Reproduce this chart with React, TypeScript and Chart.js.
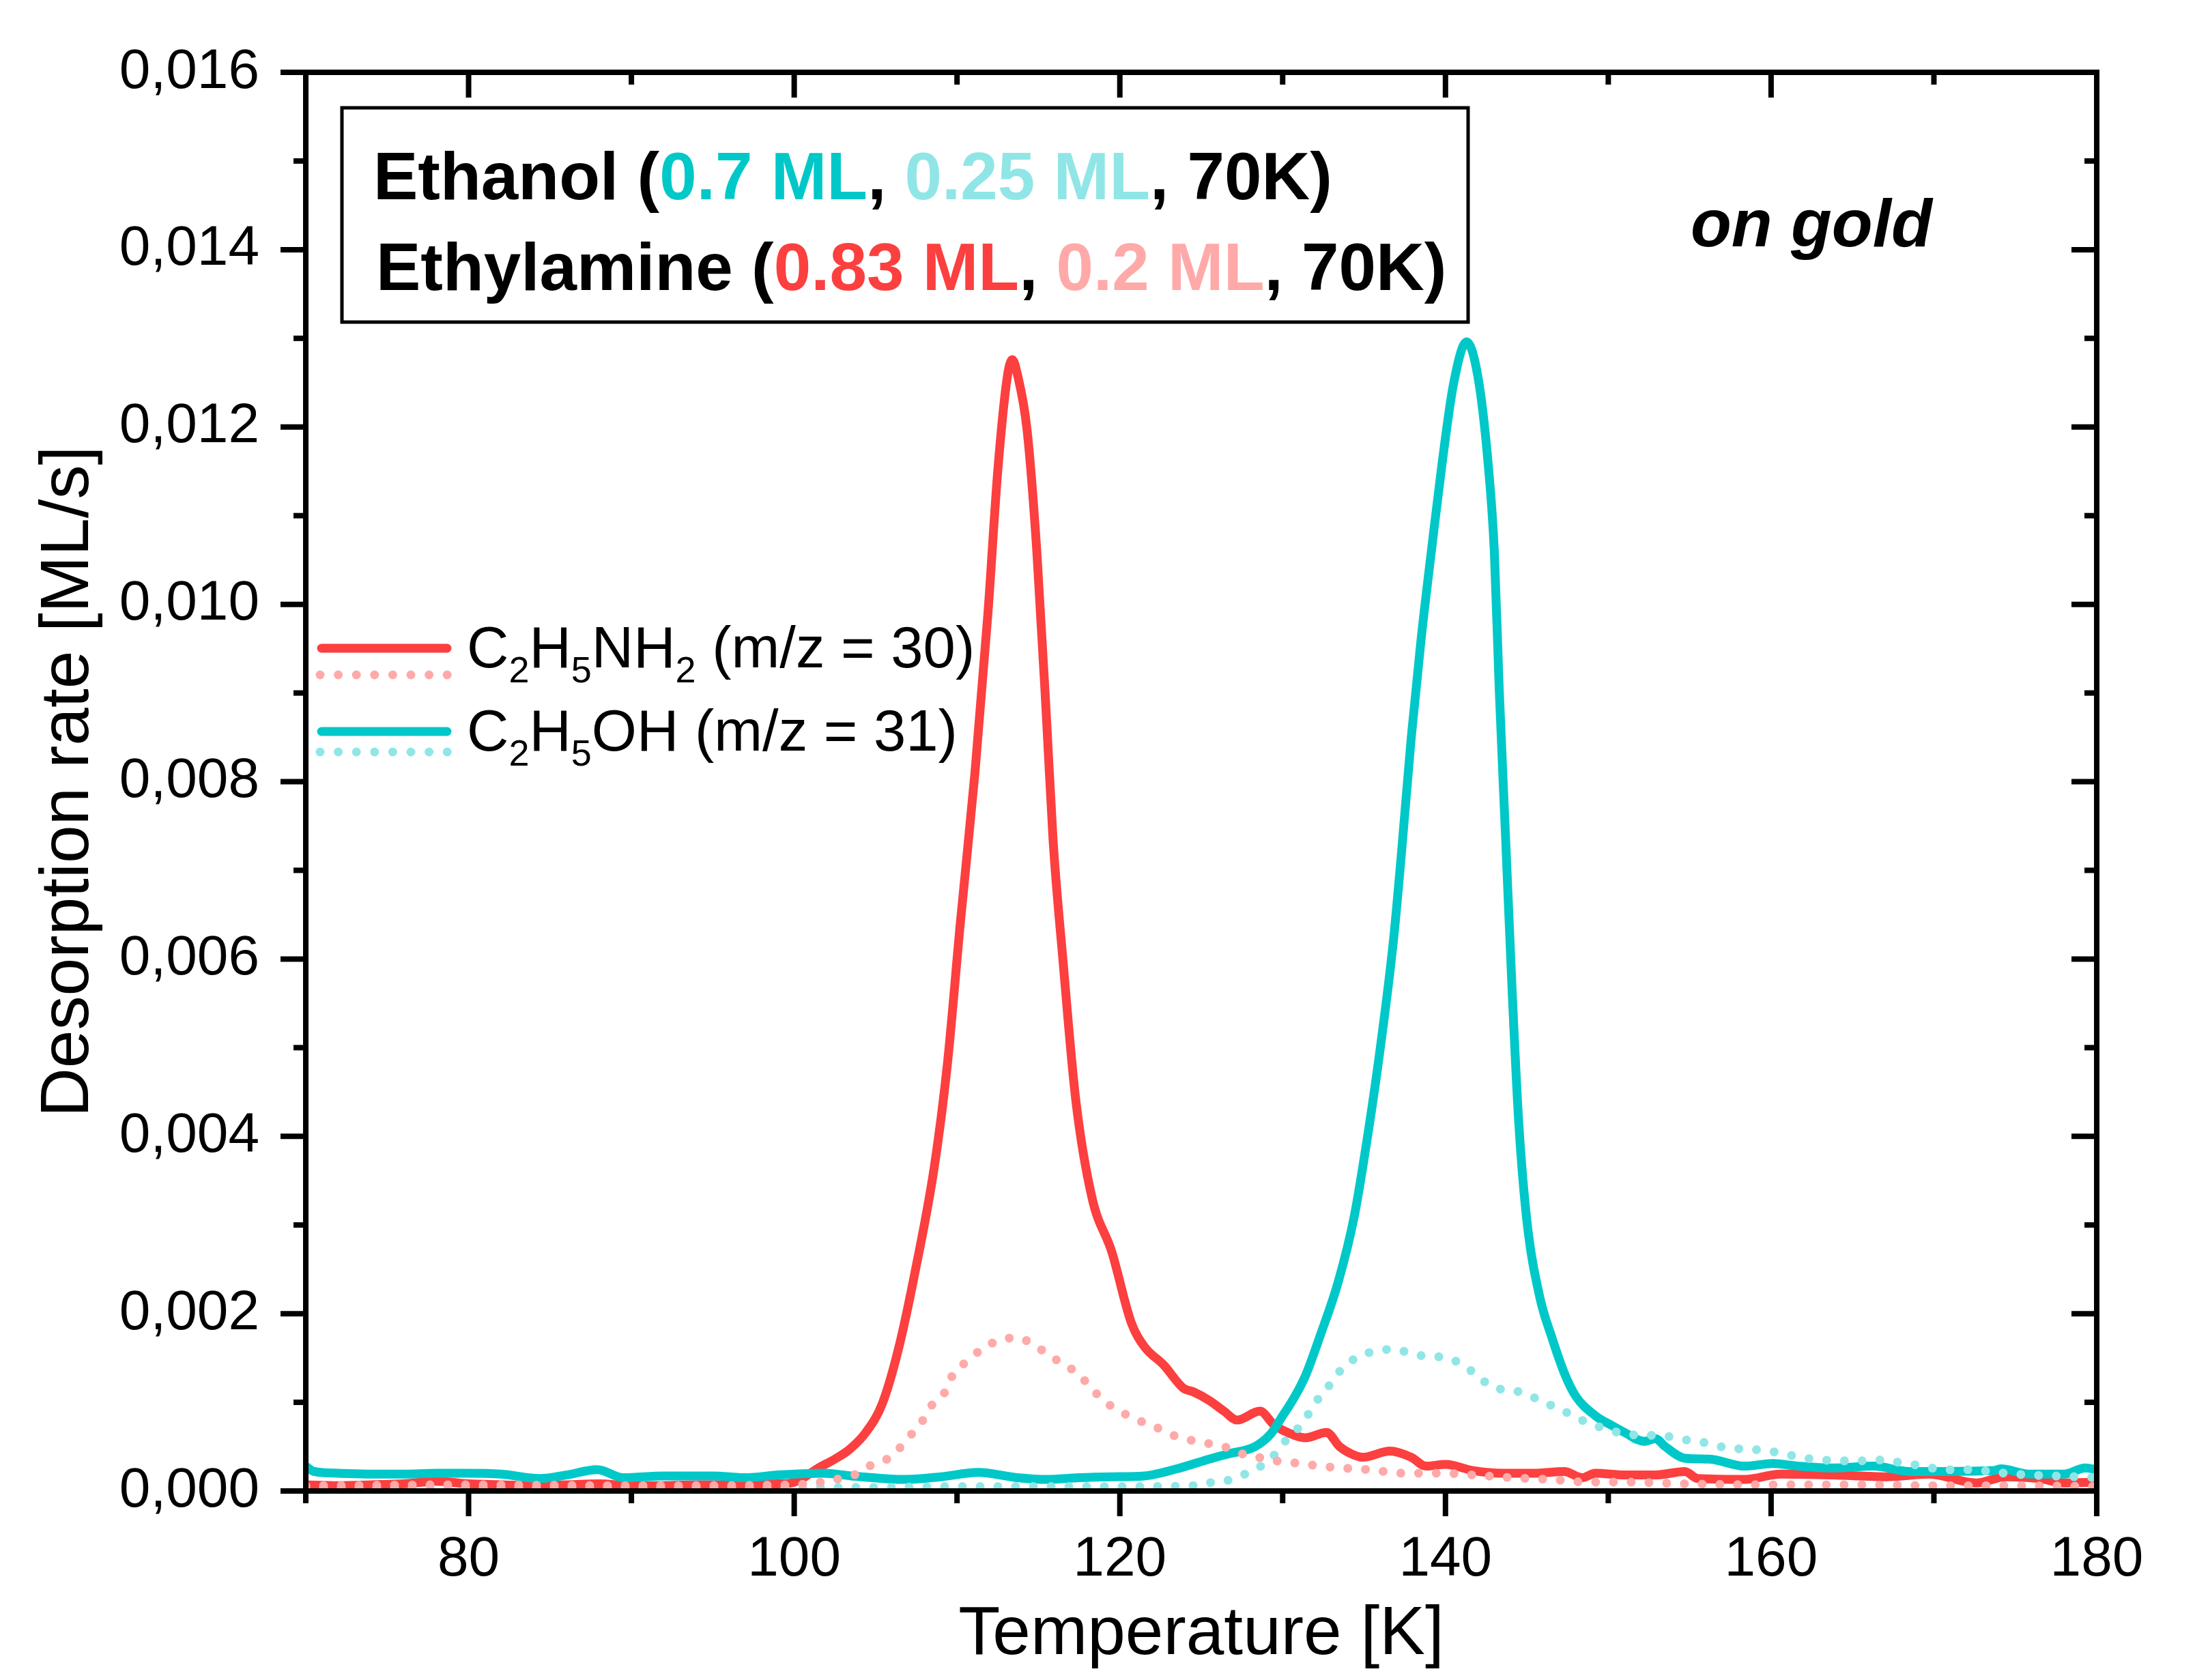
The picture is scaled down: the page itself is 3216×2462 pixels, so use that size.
import { useEffect, useRef } from "react";
import { Chart, registerables } from "chart.js";
Chart.register(...registerables);

const W = 3216;
const H = 2462;
const FONT = "'Liberation Sans', Arial, sans-serif";

const RED = "#FC3F3F";
const LIGHT_RED = "#FFA9A9";
const CYAN = "#00C8C8";
const LIGHT_CYAN = "#90E6E6";

// temperature [K] / desorption rate [ML/s]
const amine083T = [
  70, 72, 74, 76, 78, 80, 82, 84, 86, 88, 90, 92, 94, 96, 98, 99.4, 100.3, 101.4,
  102.5, 103.4, 104.4, 105.4, 106.4, 107.4, 108.6, 109.4, 110.2, 111.1, 111.9,
  112.5, 113.1, 113.4, 113.7, 114.3, 114.9, 115.5, 115.9, 116.5, 117.3, 118.3,
  119.5, 120.7, 121.5, 122.7, 123.9, 124.5, 125.5, 126.4, 127.2, 128.6, 129.5,
  130.7, 131.4, 132.7, 133.5, 134.2, 134.9, 136.6, 137.9, 138.8, 140, 141.7,
  143.5, 145.4, 147.3, 148.4, 149.2, 151, 152.9, 154.7, 155.5, 158.4, 160.6,
  163.8, 167.1, 169.7, 172.6, 174.4, 176.5, 178, 180,
];
const amine083 = [
  0.00007, 0.00006, 0.00007, 0.00008, 0.00011, 0.00008, 0.00007, 0.00006, 0.00007,
  0.00008, 0.00006, 0.00006, 0.00007, 0.00007, 0.00008, 0.00008, 0.00012, 0.00025,
  0.00036, 0.00047, 0.00066, 0.00098, 0.0016, 0.00245, 0.00365, 0.0048, 0.0064,
  0.0081, 0.0099, 0.0115, 0.01258, 0.01276, 0.0126, 0.01197, 0.0106, 0.0087,
  0.00734, 0.006, 0.0044, 0.0033, 0.0027, 0.0019, 0.00163, 0.00142, 0.00116,
  0.00112, 0.00102, 0.0009, 0.0008, 0.0009, 0.00074, 0.00063, 0.0006, 0.00066,
  0.0005, 0.00042, 0.00038, 0.00045, 0.00038, 0.00028, 0.0003, 0.00023, 0.0002,
  0.0002, 0.00022, 0.00015, 0.0002, 0.00018, 0.00018, 0.00022, 0.00014, 0.00013,
  0.00019, 0.00018, 0.00016, 0.00019, 0.00009, 0.00016, 0.00014, 0.00009, 0.0001,
];

const amine02T = [
  70, 80, 90, 100, 100.8, 101.7, 102.8, 103.8, 104.6, 105.7, 106.4, 107.2, 107.8,
  108.5, 109.2, 109.8, 110.6, 111.6, 112.6, 113.7, 114.7, 115.6, 116.6, 117.4,
  118.2, 119, 120, 121.1, 122.1, 123.1, 124.2, 125.3, 126.4, 127.5, 128.5, 129.6,
  130.6, 132.9, 135.3, 137.6, 139.9, 141.7, 144.1, 146.5, 148.7, 151, 155, 160,
  165, 170, 175, 180,
];
const amine02 = [
  0.00006, 0.00007, 0.00006, 0.00007, 0.00008, 0.0001, 0.00014, 0.00019, 0.00028,
  0.00036, 0.00047, 0.00064, 0.00077, 0.00098, 0.0011, 0.00133, 0.00146, 0.00161,
  0.0017, 0.00173, 0.00165, 0.00154, 0.00142, 0.00133, 0.00117, 0.00102, 0.0009,
  0.0008, 0.00073, 0.00064, 0.00058, 0.00054, 0.0005, 0.00042, 0.00038, 0.00034,
  0.00032, 0.00027, 0.00024, 0.0002, 0.0002, 0.00018, 0.00015, 0.00013, 0.0001,
  0.0001, 0.00008, 0.00007, 0.00007, 0.00006, 0.00006, 0.00005,
];

const ethanol07T = [
  70, 70.5, 72, 74, 76, 78, 80, 82, 84.4, 86, 87.9, 89.5, 92, 95, 97, 99, 101.8,
  103.5, 106.9, 109, 111.3, 113.7, 115.5, 117.5, 119.5, 121.5, 123.5, 125.5,
  126.7, 128.3, 129.3, 129.9, 130.7, 131.4, 132.3, 133.4, 134.4, 135.3, 136,
  136.8, 137.3, 137.9, 138.5, 139.2, 139.8, 140.5, 141.3, 142, 142.6, 143, 143.3,
  143.7, 144.1, 144.5, 145, 145.8, 146.5, 147.3, 148, 149.2, 150.3, 151, 152.2,
  152.9, 153.5, 154.7, 156.2, 158.4, 160.1, 161.7, 163.8, 166.3, 168.5, 170.5,
  173.7, 174.1, 175.9, 178, 179.3, 180,
];
const ethanol07 = [
  0.00028, 0.00022, 0.0002, 0.00019, 0.00019, 0.0002, 0.0002, 0.00019, 0.00014,
  0.00018, 0.00024, 0.00015, 0.00017, 0.00017, 0.00015, 0.00018, 0.0002, 0.00017,
  0.00013, 0.00016, 0.00021, 0.00015, 0.00013, 0.00015, 0.00016, 0.00017, 0.00025,
  0.00036, 0.00042, 0.0005, 0.00065, 0.00082, 0.00105, 0.0013, 0.00175, 0.00235,
  0.0031, 0.0041, 0.005, 0.0062, 0.0072, 0.0085, 0.0096, 0.0107, 0.0116,
  0.01249, 0.01296, 0.01256, 0.01163, 0.0106, 0.00905, 0.00734, 0.00562, 0.00416,
  0.00305, 0.00218, 0.00175, 0.00133, 0.00107, 0.00085, 0.00073, 0.00066, 0.00056,
  0.00059, 0.0005, 0.00037, 0.00036, 0.00028, 0.00031, 0.00028, 0.00026, 0.00028,
  0.00022, 0.00022, 0.00023, 0.00025, 0.00019, 0.00019, 0.00026, 0.00024,
];

const ethanol025T = [
  70, 80, 90, 100, 105, 110, 115, 120, 124.5, 126, 126.9, 128, 129, 129.6, 130.2,
  131.1, 131.7, 132.3, 133, 133.6, 134.7, 135.8, 136.9, 138, 139, 140.1, 141,
  141.9, 142.9, 143.9, 144.9, 146, 147, 148, 149.5, 151.2, 152.3, 153.5, 154.6,
  155.6, 156.6, 157.7, 158.8, 159.9, 161, 162.1, 163.2, 164.3, 165.4, 166.6,
  167.6, 168.7, 169.8, 170.8, 172, 175, 178.7, 180,
];
const ethanol025 = [
  0.00004, 0.00004, 0.00004, 0.00004, 0.00004, 0.00005, 0.00005, 0.00005, 0.00006,
  0.00011, 0.00013, 0.00022, 0.00032, 0.00043, 0.00057, 0.00074, 0.0009, 0.00107,
  0.00122, 0.00137, 0.00152, 0.00158, 0.0016, 0.00154, 0.00152, 0.0015, 0.00143,
  0.00131, 0.00117, 0.00114, 0.0011, 0.001, 0.00093, 0.00083, 0.00072, 0.00064,
  0.00063, 0.00062, 0.00058, 0.00056, 0.00051, 0.00048, 0.00047, 0.00045, 0.00041,
  0.00037, 0.00035, 0.00034, 0.00034, 0.00035, 0.00033, 0.0003, 0.00026, 0.00024,
  0.00024, 0.00019, 0.00016, 0.00015,
];

const xMajorTicks = [80, 100, 120, 140, 160, 180];
const xMinorTicks = [70, 90, 110, 130, 150, 170];
const yMajorTicks = [0, 0.002, 0.004, 0.006, 0.008, 0.01, 0.012, 0.014, 0.016];
const yMinorTicks = [0.001, 0.003, 0.005, 0.007, 0.009, 0.011, 0.013, 0.015];

const boxRows: [string, string][][] = [
  [["Ethanol (", "#000"], ["0.7 ML", CYAN], [", ", "#000"], ["0.25 ML", LIGHT_CYAN], [", 70K)", "#000"]],
  [["Ethylamine (", "#000"], ["0.83 ML", RED], [", ", "#000"], ["0.2 ML", LIGHT_RED], [", 70K)", "#000"]],
];

// [text, subscript?]
const amineLabel: [string, boolean][] = [
  ["C", false], ["2", true], ["H", false], ["5", true], ["NH", false], ["2", true], [" (m/z = 30)", false],
];
const ethanolLabel: [string, boolean][] = [
  ["C", false], ["2", true], ["H", false], ["5", true], ["OH (m/z = 31)", false],
];

const LINE_W = 13;

const pts = (t: number[], v: number[]) => t.map((x, i) => ({ x, y: v[i] }));

const drawFormula = (ctx: CanvasRenderingContext2D, parts: [string, boolean][], x: number, y: number) => {
  let cx = x;
  for (const [t, sub] of parts) {
    ctx.font = sub ? `54px ${FONT}` : `85px ${FONT}`;
    ctx.fillText(t, cx, sub ? y + 22 : y);
    cx += ctx.measureText(t).width;
  }
};

const framePlugin = {
  id: "frame",
  afterDraw(chart: any) {
    const { ctx, chartArea: a, scales } = chart;
    const sx = scales.x;
    const sy = scales.y;
    ctx.save();
    ctx.strokeStyle = "#000";
    ctx.fillStyle = "#000";
    ctx.lineWidth = 8;
    ctx.lineCap = "butt";
    ctx.setLineDash([]);
    const seg = (x1: number, y1: number, x2: number, y2: number) => {
      ctx.beginPath();
      ctx.moveTo(x1, y1);
      ctx.lineTo(x2, y2);
      ctx.stroke();
    };
    // ticks: outward on left/bottom, inward on top/right
    const xt: [number[], number][] = [[xMajorTicks, 37], [xMinorTicks, 18]];
    for (const [vals, len] of xt) {
      for (const v of vals) {
        const px = sx.getPixelForValue(v);
        seg(px, a.bottom, px, a.bottom + len);
        seg(px, a.top, px, a.top + len);
      }
    }
    const yt: [number[], number][] = [[yMajorTicks, 37], [yMinorTicks, 18]];
    for (const [vals, len] of yt) {
      for (const v of vals) {
        const py = sy.getPixelForValue(v);
        seg(a.left - len, py, a.left, py);
        seg(a.right - len, py, a.right, py);
      }
    }
    ctx.strokeRect(a.left, a.top, a.right - a.left, a.bottom - a.top);

    // composition box
    ctx.lineWidth = 5;
    ctx.strokeRect(501, 158, 1650, 314);
    ctx.textAlign = "left";
    ctx.textBaseline = "alphabetic";
    ctx.font = `bold 98px ${FONT}`;
    const rowPos = [[547, 292], [551, 425]];
    boxRows.forEach((row, i) => {
      let x = rowPos[i][0];
      for (const [t, c] of row) {
        ctx.fillStyle = c;
        ctx.fillText(t, x, rowPos[i][1]);
        x += ctx.measureText(t).width;
      }
    });

    ctx.fillStyle = "#000";
    ctx.font = `italic bold 98px ${FONT}`;
    ctx.fillText("on gold", 2477, 361);

    // series legend
    ctx.lineWidth = LINE_W;
    ctx.lineCap = "round";
    const sample = (color: string, y: number, dotted: boolean) => {
      ctx.strokeStyle = color;
      ctx.setLineDash(dotted ? [0, 26.6] : []);
      seg(dotted ? 469 : 471, y, dotted ? 657 : 655, y);
    };
    sample(RED, 950, false);
    sample(LIGHT_RED, 989, true);
    sample(CYAN, 1072, false);
    sample(LIGHT_CYAN, 1102, true);
    ctx.setLineDash([]);
    ctx.fillStyle = "#000";
    drawFormula(ctx, amineLabel, 684, 978);
    drawFormula(ctx, ethanolLabel, 684, 1100);

    // axis titles
    ctx.font = `100px ${FONT}`;
    ctx.textAlign = "center";
    ctx.fillText("Temperature [K]", (a.left + a.right) / 2, 2424);
    ctx.translate(129, (a.top + a.bottom) / 2);
    ctx.rotate(-Math.PI / 2);
    ctx.fillText("Desorption rate [ML/s]", 0, 0);
    ctx.restore();
  },
};

export default function App() {
  const canvasRef = useRef<HTMLCanvasElement>(null);

  useEffect(() => {
    const canvas = canvasRef.current;
    if (!canvas) return;
    const line = (data: { x: number; y: number }[], color: string, dotted: boolean) => ({
      data,
      borderColor: color,
      borderWidth: LINE_W,
      borderDash: dotted ? [0, 26] : [],
      borderCapStyle: "round" as const,
      borderJoinStyle: "round" as const,
      pointRadius: 0,
      cubicInterpolationMode: "monotone" as const,
      fill: false,
    });
    const chart = new Chart(canvas, {
      type: "line",
      data: {
        datasets: [
          line(pts(amine02T, amine02), LIGHT_RED, true),
          line(pts(ethanol025T, ethanol025), LIGHT_CYAN, true),
          line(pts(ethanol07T, ethanol07), CYAN, false),
          line(pts(amine083T, amine083), RED, false),
        ],
      },
      options: {
        animation: false,
        responsive: true,
        maintainAspectRatio: false,
        devicePixelRatio: 1,
        layout: { padding: { top: 106, right: 144, left: 0, bottom: 0 } },
        plugins: { legend: { display: false }, tooltip: { enabled: false } },
        scales: {
          x: {
            type: "linear",
            min: 70,
            max: 180,
            grid: { display: false, drawTicks: false },
            border: { display: false },
            afterBuildTicks: (s: any) => {
              s.ticks = xMajorTicks.map((value) => ({ value }));
            },
            afterFit: (s: any) => {
              s.height = H - 2185;
              s.paddingLeft = 0;
              s.paddingRight = 0;
            },
            ticks: {
              padding: 52,
              color: "#000",
              font: { family: FONT, size: 82 },
              maxRotation: 0,
              autoSkip: false,
              callback: (v: any) => String(v),
            },
          },
          y: {
            type: "linear",
            min: 0,
            max: 0.016,
            grid: { display: false, drawTicks: false },
            border: { display: false },
            afterBuildTicks: (s: any) => {
              s.ticks = yMajorTicks.map((value) => ({ value }));
            },
            afterFit: (s: any) => {
              s.width = 448;
              s.paddingTop = 0;
              s.paddingBottom = 0;
            },
            ticks: {
              padding: 68,
              color: "#000",
              font: { family: FONT, size: 82 },
              autoSkip: false,
              callback: (v: any) => Number(v).toFixed(3).replace(".", ","),
            },
          },
        },
      },
      plugins: [framePlugin],
    });
    return () => chart.destroy();
  }, []);

  return (
    <div style={{ position: "fixed", left: 0, top: 0, width: W, height: H, background: "#fff" }}>
      <canvas ref={canvasRef} />
    </div>
  );
}
